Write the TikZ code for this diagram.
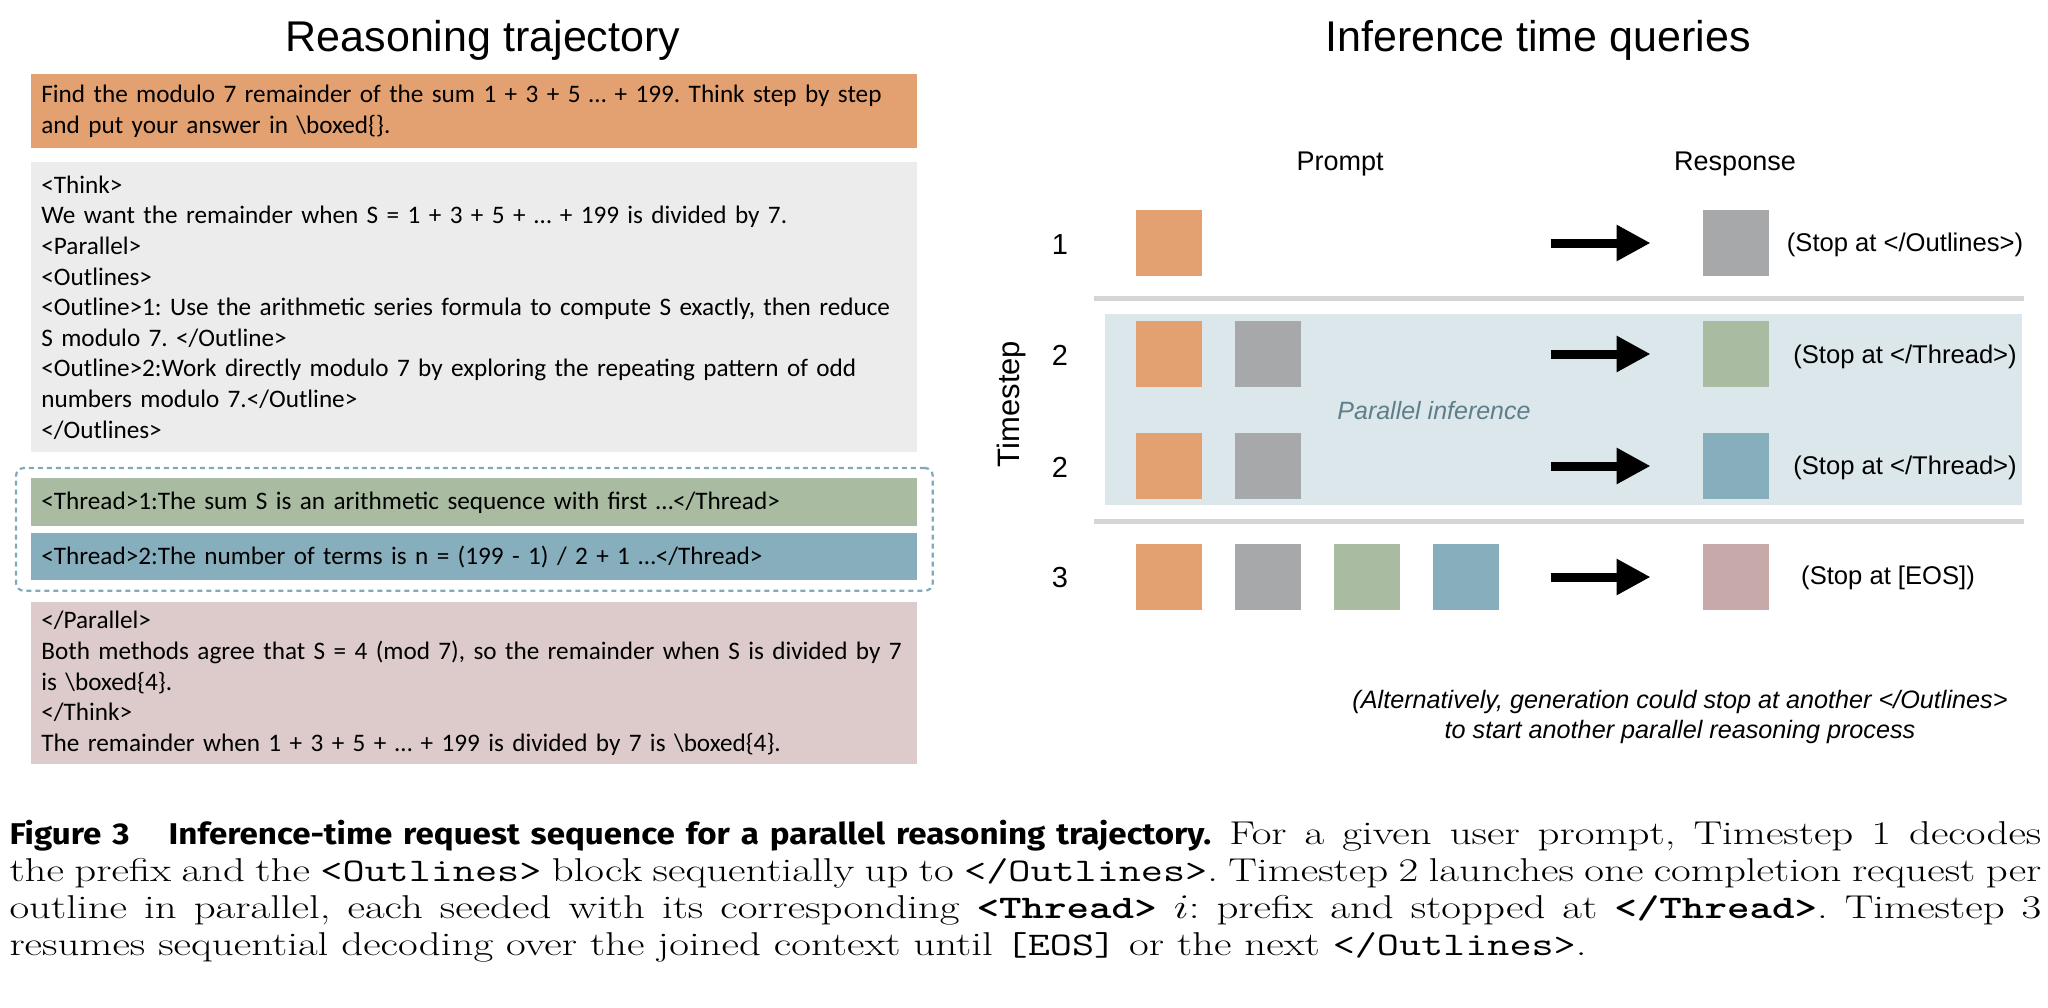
\documentclass[tikz,border=0pt]{standalone}
\usepackage{fontspec}
\newfontfamily\boxfont{Carlito}
\newfontfamily\headfont{Liberation Sans}
\newfontfamily\capsans[FakeStretch=0.85]{Fira Sans}
\usetikzlibrary{arrows.meta,fit}

\definecolor{promptorange}{HTML}{E3A070}
\definecolor{thinkgrey}{HTML}{EBECEB}
\definecolor{threadgreen}{HTML}{A9BCA2}
\definecolor{threadblue}{HTML}{87AEBD}
\definecolor{answerpink}{HTML}{DDCBCB}
\definecolor{tokgrey}{HTML}{A7A8A9}
\definecolor{tokpink}{HTML}{C8A9A9}
\definecolor{panelblue}{HTML}{DCE7EB}
\definecolor{dividergrey}{HTML}{D5D5D5}
\definecolor{dashblue}{HTML}{7FAAB8}
\definecolor{paratext}{HTML}{5E7E89}

\frenchspacing

\begin{document}
\begin{tikzpicture}[x=0.5pt, y=-0.5pt,
    txtbox/.style={anchor=north west, inner xsep=5pt, inner ysep=0pt, text width=433pt,
        minimum width=443pt, align=left, font=\boxfont\fontsize{12.6}{15.3}\selectfont},
    tok/.style={minimum size=33pt, inner sep=0pt, fill=#1},
    lbl/.style={font=\headfont\fontsize{12.8}{15}\selectfont},
    head/.style={font=\headfont\fontsize{13.5}{16}\selectfont},
    rowlbl/.style={font=\headfont\fontsize{14.5}{16}\selectfont},
    title/.style={font=\headfont\fontsize{21.5}{25}\selectfont},
    bigarrow/.style={line width=4.5pt, -{Triangle[length=17pt, width=17pt]}},
    divider/.style={line width=2.5pt, dividergrey}]
    \useasboundingbox (0,0) rectangle (2048,1007);

    % left: reasoning trajectory
    \node[title] (lefttitle) at (483,40) {Reasoning trajectory};

    \node[txtbox, fill=promptorange, minimum height=37pt] (prompt) at (31,74)
        {Find the modulo 7 remainder of the sum 1 + 3 + 5 … + 199. Think step by step\\
         and put your answer in \textbackslash boxed\{\}.};
    \node[txtbox, fill=thinkgrey, minimum height=145pt] (think) at (31,162)
        {<Think>\\
         We want the remainder when S = 1 + 3 + 5 + … + 199 is divided by 7.\\
         <Parallel>\\
         <Outlines>\\
         <Outline>1: Use the arithmetic series formula to compute S exactly, then reduce\\
         S modulo 7. </Outline>\\
         <Outline>2:Work directly modulo 7 by exploring the repeating pattern of odd\\
         numbers modulo 7.</Outline>\\
         </Outlines>};
    \node[txtbox, fill=threadgreen, minimum height=24pt] (thread1) at (31,478)
        {<Thread>1:The sum S is an arithmetic sequence with first …</Thread>};
    \node[txtbox, fill=threadblue, minimum height=23.5pt] (thread2) at (31,533)
        {<Thread>2:The number of terms is n = (199 - 1) / 2 + 1 …</Thread>};
    \node[draw=dashblue, line width=1.1pt, dash pattern=on 2.5pt off 2pt, rounded corners=4pt,
        inner xsep=7.5pt, inner ysep=5pt, fit=(thread1)(thread2)] (threads) {};
    \node[txtbox, fill=answerpink, minimum height=81pt] (answer) at (31,602)
        {</Parallel>\\
         Both methods agree that S = 4 (mod 7), so the remainder when S is divided by 7\\
         is \textbackslash boxed\{4\}.\\
         </Think>\\
         The remainder when 1 + 3 + 5 + … + 199 is divided by 7 is \textbackslash boxed\{4\}.};

    % right: inference time queries
    \node[title] (righttitle) at (1538,40) {Inference time queries};
    \node[head] (prompthead) at (1340,164) {Prompt};
    \node[head] (resphead) at (1735,164) {Response};
    \node[font=\headfont\fontsize{15.5}{18}\selectfont, rotate=90] (timestep) at (1011,404) {Timestep};

    \fill[panelblue] (1105,314) rectangle (2022,505);
    \node[font=\headfont\itshape\fontsize{12.5}{15}\selectfont, text=paratext] (parinf) at (1434,411) {Parallel inference};
    \draw[divider] (1094,298) -- (2024,298);
    \draw[divider] (1094,521) -- (2024,521);

    % timestep 1
    \node[rowlbl] (t1) at (1060,245) {1};
    \node[tok=promptorange] (r1a) at (1169,243) {};
    \node[tok=tokgrey] (r1out) at (1736,243) {};
    \node[lbl] (stop1) at (1905,245) {(Stop at </Outlines>)};
    \draw[bigarrow] ([xshift=-76pt]r1out.west) -- ([xshift=-26pt]r1out.west);

    % timestep 2, first thread
    \node[rowlbl] (t2a) at (1060,355) {2};
    \node[tok=promptorange] (r2a) at (1169,354) {};
    \node[tok=tokgrey] (r2b) at (1268,354) {};
    \node[tok=threadgreen] (r2out) at (1736,354) {};
    \node[lbl] (stop2) at (1905,357) {(Stop at </Thread>)};
    \draw[bigarrow] ([xshift=-76pt]r2out.west) -- ([xshift=-26pt]r2out.west);

    % timestep 2, second thread
    \node[rowlbl] (t2b) at (1060,467) {2};
    \node[tok=promptorange] (r3a) at (1169,466) {};
    \node[tok=tokgrey] (r3b) at (1268,466) {};
    \node[tok=threadblue] (r3out) at (1736,466) {};
    \node[lbl] (stop3) at (1905,468) {(Stop at </Thread>)};
    \draw[bigarrow] ([xshift=-76pt]r3out.west) -- ([xshift=-26pt]r3out.west);

    % timestep 3
    \node[rowlbl] (t3) at (1060,578) {3};
    \node[tok=promptorange] (r4a) at (1169,577) {};
    \node[tok=tokgrey] (r4b) at (1268,577) {};
    \node[tok=threadgreen] (r4c) at (1367,577) {};
    \node[tok=threadblue] (r4d) at (1466,577) {};
    \node[tok=tokpink] (r4out) at (1736,577) {};
    \node[lbl] (stop4) at (1888,578) {(Stop at [EOS])};
    \draw[bigarrow] ([xshift=-76pt]r4out.west) -- ([xshift=-26pt]r4out.west);

    \node[font=\headfont\itshape\fontsize{12.6}{15}\selectfont, align=center] (note) at (1680,717)
        {(Alternatively, generation could stop at another </Outlines>\\
         to start another parallel reasoning process};

    % caption
    \begin{scope}[shift={(9,820)}, xscale=1.3, transform shape]
    \node[anchor=north west, inner sep=0pt, text width=781.5pt, align=justify,
        font=\fontsize{16.5}{18.5}\selectfont] (caption) at (0,0)
        {{\capsans\bfseries\fontsize{15}{18.5}\selectfont Figure 3\quad Inference-time request sequence for a parallel reasoning trajectory.}
         For a given user prompt, Timestep 1 decodes\linebreak
         the prefix and the \texttt{<Outlines>} block sequentially up to \texttt{</Outlines>}. Timestep 2 launches one completion request per\linebreak
         outline in parallel, each seeded with its corresponding \texttt{\bfseries <Thread>} $i$: prefix and stopped at \texttt{\bfseries </Thread>}. Timestep 3\linebreak
         resumes sequential decoding over the joined context until \texttt{[EOS]} or the next \texttt{</Outlines>}.};
    \end{scope}
\end{tikzpicture}
\end{document}
